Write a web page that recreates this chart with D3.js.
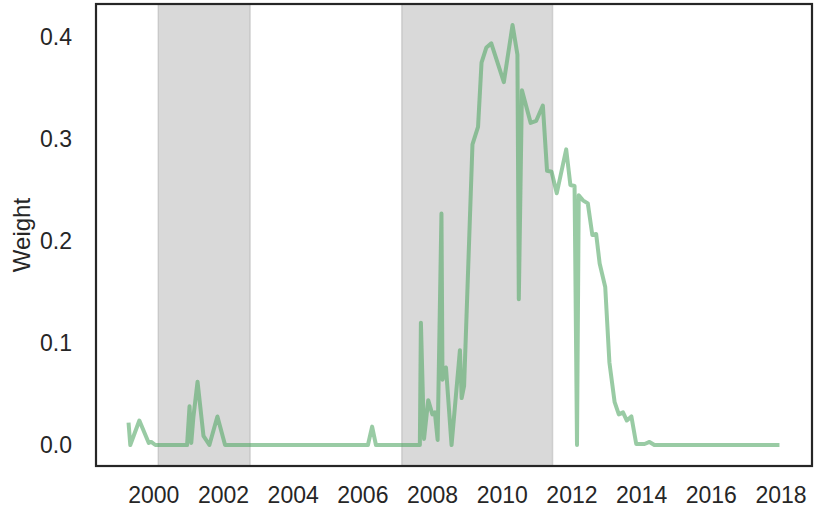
<!DOCTYPE html>
<html><head><meta charset="utf-8">
<script src="https://cdn.jsdelivr.net/npm/d3@7"></script>
<style>body{margin:0;background:#fff}svg{display:block}text{font-family:"Liberation Sans",Arial,sans-serif;fill:#262626}</style>
</head><body>
<svg id="c" width="817" height="513"></svg>
<script>
// decimal years
const years = [1999.29,1999.34,1999.60,1999.87,1999.94,2000.06,2000.97,2001.04,2001.09,2001.15,2001.27,2001.44,2001.61,2001.84,2002.06,
2006.16,2006.28,2006.39,2007.65,2007.68,2007.77,2007.89,2008.01,2008.08,2008.16,2008.27,2008.30,2008.40,2008.56,2008.80,2008.85,2008.92,
2009.16,2009.32,2009.42,2009.56,2009.70,2010.06,2010.31,2010.45,2010.49,2010.58,2010.83,2010.99,2011.18,2011.30,2011.43,2011.58,2011.85,
2011.97,2012.09,2012.16,2012.21,2012.33,2012.47,2012.60,2012.71,2012.81,2012.97,2013.09,2013.24,2013.36,2013.48,2013.59,2013.72,2013.86,
2014.10,2014.24,2014.38,2017.97];
const weights = [0.022,0.0,0.024,0.002,0.003,0.0,0.0,0.038,0.002,0.027,0.062,0.009,0.0,0.028,0.0,
0.0,0.018,0.0,0.0,0.120,0.006,0.044,0.030,0.032,0.005,0.227,0.064,0.076,0.0,0.093,0.046,0.058,
0.295,0.312,0.375,0.390,0.394,0.356,0.412,0.383,0.143,0.348,0.316,0.318,0.333,0.269,0.268,0.247,0.290,
0.255,0.254,0.0,0.245,0.240,0.237,0.206,0.207,0.178,0.155,0.081,0.042,0.030,0.032,0.024,0.028,0.001,
0.001,0.003,0.0,0.0];
const shadeStart = [2000.14, 2007.13];
const shadeEnd = [2002.78, 2011.46];
const xTicks = [2000,2002,2004,2006,2008,2010,2012,2014,2016,2018];
const yTicks = [0.0,0.1,0.2,0.3,0.4];
const yLabel = "Weight";

const L=96,R=812,T=4,B=466;
const svg=d3.select("#c");
const [x0,x1]=d3.extent(years), [y0,y1]=d3.extent(weights);
const px=(x1-x0)*0.05, py=(y1-y0)*0.05;
const x=d3.scaleLinear().domain([x0-px,x1+px]).range([L,R]);
const y=d3.scaleLinear().domain([y0-py,y1+py]).range([B,T]);

const g=svg.append("g");
g.selectAll("rect.shade").data(shadeStart.map((s,i)=>[s,shadeEnd[i]])).join("rect")
 .attr("class","shade").attr("x",d=>x(d[0])).attr("width",d=>x(d[1])-x(d[0]))
 .attr("y",T).attr("height",B-T).attr("fill","#808080").attr("fill-opacity",0.3)
 .attr("stroke","#808080").attr("stroke-opacity",0.25).attr("stroke-width",1.5);

const line=d3.line().x((d,i)=>x(years[i])).y(d=>y(d));
g.append("path").datum(weights).attr("d",line).attr("fill","none")
 .attr("stroke","#55a868").attr("stroke-opacity",0.6).attr("stroke-width",4)
 .attr("stroke-linejoin","round").attr("stroke-linecap","butt");

const xa=svg.append("g").attr("transform",`translate(0,${B})`)
 .call(d3.axisBottom(x).tickValues(xTicks).tickFormat(d3.format("d")).tickSize(0).tickPadding(21));
const ya=svg.append("g").attr("transform",`translate(${L},0)`)
 .call(d3.axisLeft(y).tickValues(yTicks).tickFormat(d3.format(".1f")).tickSize(0).tickPadding(24));
[xa,ya].forEach(a=>{a.select(".domain").remove();a.selectAll("text").attr("font-size",23).attr("fill","#262626").style("font-family","'Liberation Sans',Arial,sans-serif");});

svg.append("rect").attr("x",L).attr("y",T).attr("width",R-L).attr("height",B-T)
 .attr("fill","none").attr("stroke","#262626").attr("stroke-width",2.2);

svg.append("text").attr("transform",`translate(30,${(T+B)/2}) rotate(-90)`)
 .attr("text-anchor","middle").attr("font-size",24).text(yLabel);
</script>
</body></html>
